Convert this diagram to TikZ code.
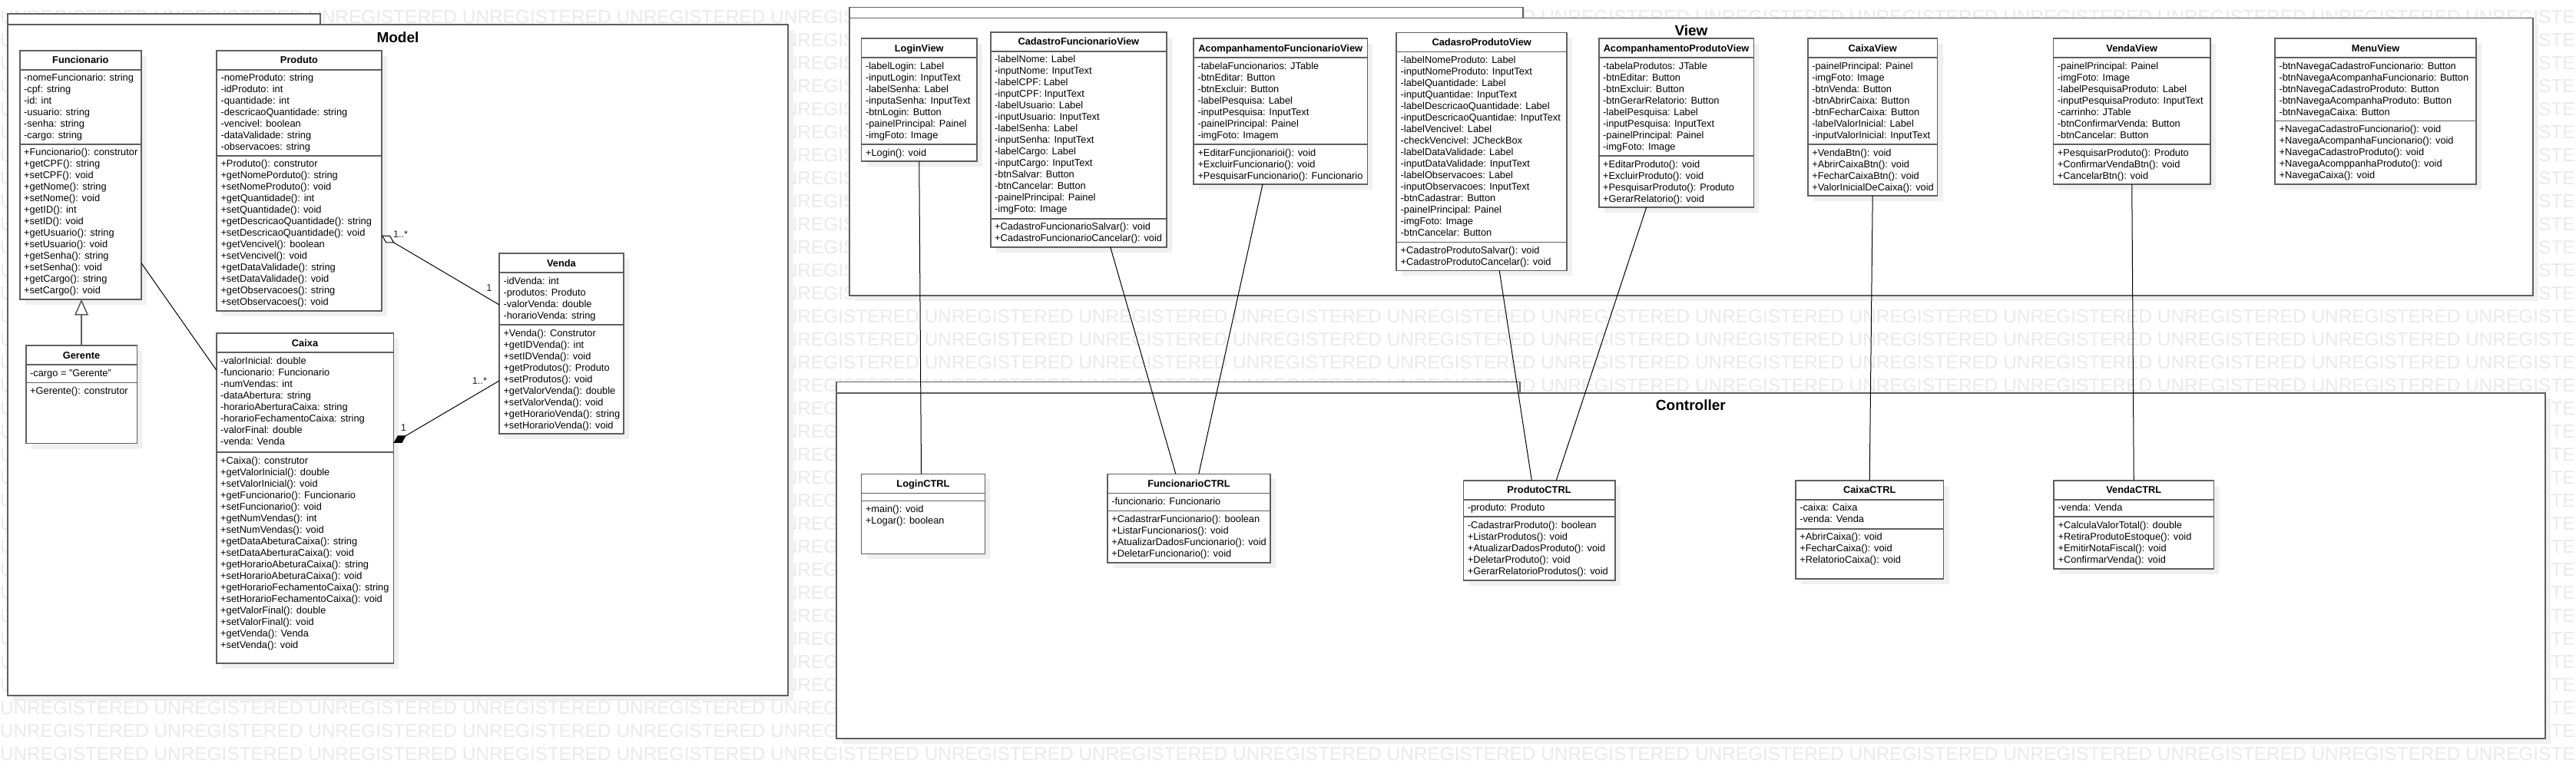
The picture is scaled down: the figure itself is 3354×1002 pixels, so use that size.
\documentclass[tikz,border=0pt]{standalone}
\usepackage{fontspec}
\setmainfont{Liberation Sans}
\usetikzlibrary{arrows.meta,calc}
\definecolor{boxc}{RGB}{95,95,95}
\definecolor{shadc}{RGB}{240,240,240}
\definecolor{wmc}{RGB}{234,234,234}
\tikzset{
  txt/.style={inner sep=0pt, outer sep=0pt, font=\fontsize{12.8}{15}\selectfont},
  ttl/.style={inner sep=0pt, outer sep=0pt, font=\fontsize{12.8}{15}\selectfont\bfseries},
  pkgttl/.style={inner sep=0pt, outer sep=0pt, font=\fontsize{19}{22}\selectfont\bfseries},
  classbox/.style={draw=boxc, line width=1.6pt, fill=white, inner sep=0pt, outer sep=0pt},
  pkgbox/.style={draw=boxc, line width=1.6pt, fill=white, inner sep=0pt, outer sep=0pt},
  sepline/.style={draw=boxc, line width=1.6pt},
  conn/.style={draw=black, line width=1pt},
  mult/.style={inner sep=0pt, outer sep=0pt, font=\fontsize{12.8}{15}\selectfont, text=black!85},
  wm/.style={inner sep=0pt, outer sep=0pt, anchor=base west, text=wmc, font=\fontsize{24.4}{28}\selectfont},
}
% #1 name, #2 x, #3 y, #4 width, #5 attr height, #6 method height, #7 title, #8 attrs, #9 methods
\newcommand{\umlclass}[9]{%
  \fill[shadc] (#2+7,#3+7) rectangle ++(#4,25+#5+#6);
  \node[classbox, minimum width=#4pt, minimum height=25+#5+#6, anchor=north west] (#1) at (#2,#3) {};
  \draw[sepline] (#2,#3+25) -- ++(#4,0);
  \draw[sepline] (#2,#3+25+#5) -- ++(#4,0);
  \node[ttl, anchor=base] (#1-t) at (#2+#4/2,#3+17) {#7};
  \foreach \t [count=\i] in {#8} {\node[txt, anchor=base west] (#1-a\i) at (#2+5.5,#3+25+15*\i) {\t};}
  \foreach \t [count=\i] in {#9} {\node[txt, anchor=base west] (#1-m\i) at (#2+5.5,#3+25+#5+15*\i) {\t};}
}
% #1 name, #2 x1, #3 tab top, #4 body top, #5 tab right, #6 x2, #7 y2, #8 title
\newcommand{\umlpkg}[8]{%
  \fill[shadc] (#2+7,#4+7) rectangle (#6+7,#7+7);
  \draw[pkgbox] (#2,#3) rectangle (#5,#4);
  \node[pkgbox, minimum width=#6-#2, minimum height=#7-#4, anchor=north west] (#1) at (#2,#4) {};
  \node[pkgttl, anchor=base] (#1-title) at ({(#2+#6)/2},#4+23) {#8};
}
\newcommand{\wmfull}{UNREGISTERED UNREGISTERED UNREGISTERED UNREGISTERED UNREGISTERED UNREGISTERED UNREGISTERED UNREGISTERED UNREGISTERED UNREGISTERED UNREGISTERED UNREGISTERED UNREGISTERED UNREGISTERED UNREGISTERED UNREGISTERED UNREGISTE}
\newcommand{\wmmid}{UNREGISTERED UNREGISTERED UNREGISTERED UNREGISTERED UNREGISTERED UNREGISTERED UNREGISTERED UNREGISTERED UNREGISTERED UNREGISTERED UNREGISTERED UNREGISTE}
\begin{document}
\begin{tikzpicture}[x=1pt,y=-1pt]
\useasboundingbox[fill=white] (0,0) rectangle (3354,1002);
% watermark (only where it shows between the packages)
\node[wm] (wmtop) at (0,30) {\wmfull};
\foreach \k in {1,...,29} {\node[wm] (wmu\k) at (0,30+30*\k) {U};}
\foreach \k in {1,...,12} {\node[wm] (wmg\k) at (1003.2,30+30*\k) {UNREGIS};
  \node[wm] (wmr\k) at (3210.2,30+30*\k) {UNREGISTE};}
\foreach \k in {17,...,29} {\node[wm] (wmg\k) at (1003.2,30+30*\k) {UNREGIS};
  \node[wm] (wmr\k) at (3210.2,30+30*\k) {UNREGISTE};}
\foreach \k in {13,...,16} {\node[wm] (wmm\k) at (1003.2,30+30*\k) {\wmmid};}
\foreach \k in {30,31,32} {\node[wm] (wmb\k) at (0,30+30*\k) {\wmfull};}
% packages
\umlpkg{model}{10}{18}{32}{417}{1026}{906}{Model}
\umlpkg{view}{1106}{9.3}{23.5}{1983}{3298}{385}{View}
\umlpkg{controller}{1088.7}{497.5}{511.7}{1978.7}{3314}{961.7}{Controller}
% Model classes
\umlclass{funcionario}{25.7}{65.7}{158.3}{97}{202}{Funcionario}
 {-nomeFuncionario: string, -cpf: string, -id: int, -usuario: string, -senha: string, -cargo: string}
 {+Funcionario(): construtor, +getCPF(): string, +setCPF(): void, +getNome(): string, +setNome(): void, +getID(): int, +setID(): void, +getUsuario(): string, +setUsuario(): void, +getSenha(): string, +setSenha(): void, +getCargo(): string, +setCargo(): void}
\umlclass{produto}{282}{65.7}{215}{112}{202}{Produto}
 {-nomeProduto: string, -idProduto: int, -quantidade: int, -descricaoQuantidade: string, -vencivel: boolean, -dataValidade: string, -observacoes: string}
 {+Produto(): construtor, +getNomePorduto(): string, +setNomeProduto(): void, +getQuantidade(): int, +setQuantidade(): void, +getDescricaoQuantidade(): string, +setDescricaoQuantidade(): void, +getVencivel(): boolean, +setVencivel(): void, +getDataValidade(): string, +setDataValidade(): void, +getObservacoes(): string, +setObservacoes(): void}
\umlclass{gerente}{33.7}{450}{144.7}{23.5}{79}{Gerente}
 {-cargo = "Gerente"}
 {+Gerente(): construtor}
\umlclass{caixa}{281.7}{434}{230.7}{130}{275}{Caixa}
 {-valorInicial: double, -funcionario: Funcionario, -numVendas: int, -dataAbertura: string, -horarioAberturaCaixa: string, -horarioFechamentoCaixa: string, -valorFinal: double, -venda: Venda}
 {+Caixa(): construtor, +getValorInicial(): double, +setValorInicial(): void, +getFuncionario(): Funcionario, +setFuncionario(): void, +getNumVendas(): int, +setNumVendas(): void, +getDataAbeturaCaixa(): string, +setDataAberturaCaixa(): void, +getHorarioAbeturaCaixa(): string, +setHorarioAbeturaCaixa(): void, +getHorarioFechamentoCaixa(): string, +setHorarioFechamentoCaixa(): void, +getValorFinal(): double, +setValorFinal(): void, +getVenda(): Venda, +setVenda(): void}
\umlclass{venda}{650}{330}{162}{68}{142}{Venda}
 {-idVenda: int, -produtos: Produto, -valorVenda: double, -horarioVenda: string}
 {+Venda(): Construtor, +getIDVenda(): int, +setIDVenda(): void, +getProdutos(): Produto, +setProdutos(): void, +getValorVenda(): double, +setValorVenda(): void, +getHorarioVenda(): string, +setHorarioVenda(): void}
% View classes
\umlclass{loginview}{1121.6}{50}{150.3}{113}{22}{LoginView}
 {-labelLogin: Label, -inputLogin: InputText, -labelSenha: Label, -inputaSenha: InputText, -btnLogin: Button, -painelPrincipal: Painel, -imgFoto: Image}
 {+Login(): void}
\umlclass{cfv}{1289.7}{41.7}{229.3}{218}{37}{CadastroFuncionarioView}
 {-labelNome: Label, -inputNome: InputText, -labelCPF: Label, -inputCPF: InputText, -labelUsuario: Label, -inputUsuario: InputText, -labelSenha: Label, -inputSenha: InputText, -labelCargo: Label, -inputCargo: InputText, -btnSalvar: Button, -btnCancelar: Button, -painelPrincipal: Painel, -imgFoto: Image}
 {+CadastroFuncionarioSalvar(): void, +CadastroFuncionarioCancelar(): void}
\umlclass{afv}{1554}{50}{226.3}{113}{52}{AcompanhamentoFuncionarioView}
 {-tabelaFuncionarios: JTable, -btnEditar: Button, -btnExcluir: Button, -labelPesquisa: Label, -inputPesquisa: InputText, -painelPrincipal: Painel, -imgFoto: Imagem}
 {+EditarFuncjionarioi(): void, +ExcluirFuncionario(): void, +PesquisarFuncionario(): Funcionario}
\umlclass{cpv}{1818.2}{42.3}{222}{248}{37}{CadasroProdutoView}
 {-labelNomeProduto: Label, -inputNomeProduto: InputText, -labelQuantidade: Label, -inputQuantidae: InputText, -labelDescricaoQuantidade: Label, -inputDescricaoQuantidae: InputText, -labelVencivel: Label, -checkVencivel: JCheckBox, -labelDataValidade: Label, -inputDataValidade: InputText, -labelObservacoes: Label, -inputObservacoes: InputText, -btnCadastrar: Button, -painelPrincipal: Painel, -imgFoto: Image, -btnCancelar: Button}
 {+CadastroProdutoSalvar(): void, +CadastroProdutoCancelar(): void}
\umlclass{apv}{2081.7}{50}{201.7}{128}{67}{AcompanhamentoProdutoView}
 {-tabelaProdutos: JTable, -btnEditar: Button, -btnExcluir: Button, -btnGerarRelatorio: Button, -labelPesquisa: Label, -inputPesquisa: InputText, -painelPrincipal: Painel, -imgFoto: Image}
 {+EditarProduto(): void, +ExcluirProduto(): void, +PesquisarProduto(): Produto, +GerarRelatorio(): void}
\umlclass{caixaview}{2353.8}{50}{168.8}{113}{67}{CaixaView}
 {-painelPrincipal: Painel, -imgFoto: Image, -btnVenda: Button, -btnAbrirCaixa: Button, -btnFecharCaixa: Button, -labelValorInicial: Label, -inputValorInicial: InputText}
 {+VendaBtn(): void, +AbrirCaixaBtn(): void, +FecharCaixaBtn(): void, +ValorInicialDeCaixa(): void}
\umlclass{vendaview}{2673.4}{50}{204.7}{113}{52}{VendaView}
 {-painelPrincipal: Painel, -imgFoto: Image, -labelPesquisaProduto: Label, -inputPesquisaProduto: InputText, -carrinho: JTable, -btnConfirmarVenda: Button, -btnCancelar: Button}
 {+PesquisarProduto(): Produto, +ConfirmarVendaBtn(): void, +CancelarBtn(): void}
\umlclass{menuview}{2962}{50}{262}{82.5}{82.5}{MenuView}
 {-btnNavegaCadastroFuncionario: Button, -btnNavegaAcompanhaFuncionario: Button, -btnNavegaCadastroProduto: Button, -btnNavegaAcompanhaProduto: Button, -btnNavegaCaixa: Button}
 {+NavegaCadastroFuncionario(): void, +NavegaAcompanhaFuncionario(): void, +NavegaCadastroProduto(): void, +NavegaAcomppanhaProduto(): void, +NavegaCaixa(): void}
% Controller classes
\umlclass{loginctrl}{1121.5}{617.3}{160.9}{10}{69}{LoginCTRL}
 {}
 {+main(): void, +Logar(): boolean}
\umlclass{fctrl}{1441.8}{617.3}{212.3}{23}{67.6}{FuncionarioCTRL}
 {-funcionario: Funcionario}
 {+CadastrarFuncionario(): boolean, +ListarFuncionarios(): void, +AtualizarDadosFuncionario(): void, +DeletarFuncionario(): void}
\umlclass{pctrl}{1905.3}{625.7}{197.4}{22.3}{82.7}{ProdutoCTRL}
 {-produto: Produto}
 {-CadastrarProduto(): boolean, +ListarProdutos(): void, +AtualizarDadosProduto(): void, +DeletarProduto(): void, +GerarRelatorioProdutos(): void}
\umlclass{caixactrl}{2337.8}{625.7}{192.8}{38}{65}{CaixaCTRL}
 {-caixa: Caixa, -venda: Venda}
 {+AbrirCaixa(): void, +FecharCaixa(): void, +RelatorioCaixa(): void}
\umlclass{vendactrl}{2674.2}{625.7}{208.1}{22.3}{67.7}{VendaCTRL}
 {-venda: Venda}
 {+CalculaValorTotal(): double, +RetiraProdutoEstoque(): void, +EmitirNotaFiscal(): void, +ConfirmarVenda(): void}
% Model relations
\draw[draw=boxc, line width=1.6pt, -{Triangle[open, fill=white, length=21pt, width=18pt]}] (gerente.north) -- (gerente.north |- funcionario.south);
\draw[conn] ($(funcionario.north east)+(0,277)$) -- ($(caixa.north west)+(0,48)$);
\draw[conn, {Diamond[open, fill=white, length=19pt, width=11pt]}-] ($(produto.north east)+(0,241)$) -- ($(venda.north west)+(0,67)$);
\node[mult, anchor=base west] (m1) at ($(produto.north east)+(15,244)$) {1..*};
\node[mult, anchor=base] (m2) at ($(venda.north west)+(-13,49)$) {1};
\draw[conn, {Diamond[length=19pt, width=11pt]}-] ($(caixa.north east)+(0,143)$) -- ($(venda.north west)+(0,166)$);
\node[mult, anchor=base] (m3) at ($(caixa.north east)+(13,127)$) {1};
\node[mult, anchor=base east] (m4) at ($(venda.north west)+(-16,170)$) {1..*};
% View - Controller relations
\draw[conn] (loginview.south) -- ($(loginctrl.north west)+(78,0)$);
\draw[conn] ($(cfv.south west)+(156,0)$) -- ($(fctrl.north west)+(89,0)$);
\draw[conn] ($(afv.south west)+(90,0)$) -- ($(fctrl.north west)+(119,0)$);
\draw[conn] ($(cpv.south west)+(134,0)$) -- ($(pctrl.north west)+(89,0)$);
\draw[conn] ($(apv.south west)+(62,0)$) -- ($(pctrl.north west)+(121,0)$);
\draw[conn] (caixaview.south) -- (caixactrl.north);
\draw[conn] (vendaview.south) -- (vendactrl.north);
\end{tikzpicture}
\end{document}
